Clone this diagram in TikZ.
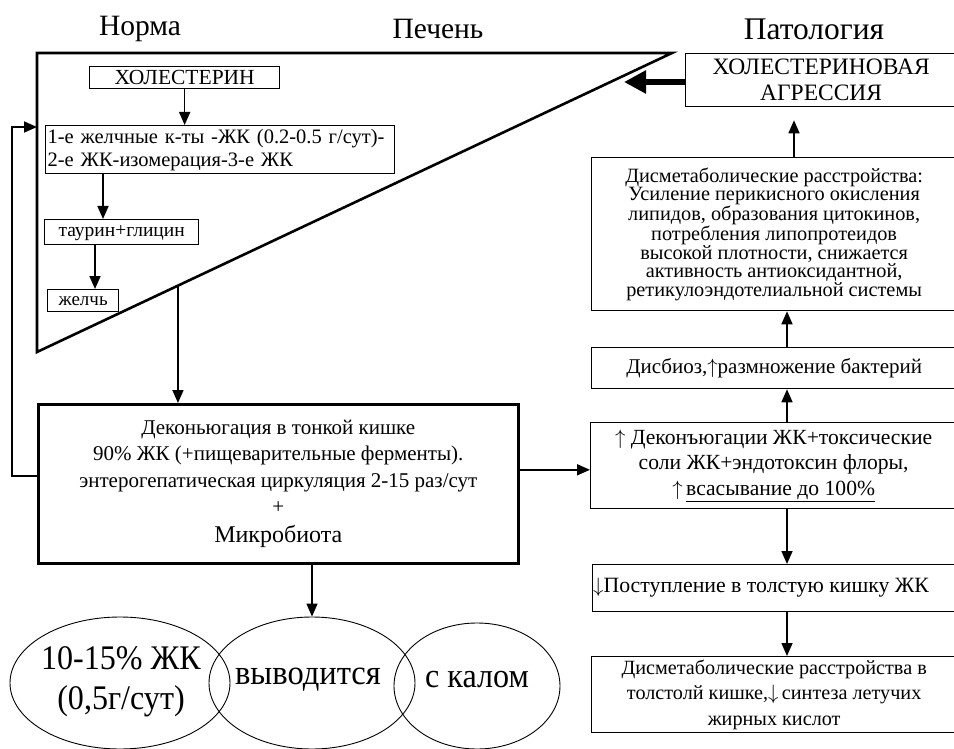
\documentclass[tikz,border=0pt]{standalone}
\usepackage{fontspec}
\setmainfont{Liberation Serif}
\newfontfamily\condserif[FakeStretch=0.93]{Liberation Serif}
\usetikzlibrary{arrows.meta,calc,shapes.geometric}
\newcommand{\upa}{$\uparrow$}
\newcommand{\dna}{$\downarrow$}
\begin{document}
\begin{tikzpicture}[x=1pt,y=-1pt,
  sbox/.style={draw, line width=1.3pt, inner sep=0pt, anchor=north west},
  rbox/.style={draw, line width=1.3pt, inner sep=0pt, anchor=north west, align=center},
  arr/.style={-{Triangle[length=13pt,width=11pt]}, line width=1.6pt},
  bigarr/.style={-{Triangle[length=22pt,width=22pt]}, line width=6pt},
  ell/.style={ellipse, draw, line width=0.9pt, inner sep=0pt},
  head/.style={font=\fontsize{29.5}{29.5}\selectfont}
]
\useasboundingbox (0,0) rectangle (954,749);

% headings
\node[head] (hnorm) at (140,29) {Норма};
\node[head] (hliver) at (438,29) {Печень};
\node[head, font=\fontsize{31.5}{31.5}\selectfont] (hpath) at (814,29) {Патология};

% liver triangle
\coordinate (lt) at (37,53);
\coordinate (rt) at (672,53);
\coordinate (lb) at (37,352);
\draw[line width=2.6pt, line join=miter] (lt) -- (rt) -- (lb) -- cycle;
\coordinate (dj) at ($(rt)!0.778!(lb)$);
\coordinate (fbin) at (37,127);

% liver nodes
\node[sbox, minimum width=190, minimum height=22, font=\fontsize{21.5}{21.5}\selectfont, text height=15pt, text depth=1pt] (chol) at (89,66) {ХОЛЕСТЕРИН};
\node[sbox, minimum width=349, minimum height=48, font=\fontsize{20.5}{23}\selectfont, align=left, text width=345, inner xsep=2pt] (ba) at (45,125) {1-е желчные к-ты -ЖК (0.2-0.5 г/сут)-\\2-е ЖК-изомерация-3-е ЖК};
\node[sbox, minimum width=154, minimum height=25, font=\fontsize{19.5}{22}\selectfont, text height=13pt, text depth=4pt] (taur) at (44,219) {таурин+глицин};
\node[sbox, minimum width=71, minimum height=22, font=\fontsize{19}{22}\selectfont, text height=13pt, text depth=4pt] (zhel) at (47,289) {желчь};

\draw[arr] (chol.south) -- (chol.south |- ba.north);
\draw[arr] (ba.south west) ++(58,0) coordinate (ba1) -- (ba1 |- taur.north);
\draw[arr] (taur.south west) ++(51,0) coordinate (ta1) -- (ta1 |- zhel.north);

% small intestine box
\node[draw, line width=2.6pt, inner sep=0pt, anchor=north west, minimum width=480, minimum height=159, align=center, font=\fontsize{21}{26.5}\selectfont] (deco) at (37,403)
 {Деконьюгация в тонкой кишке\\90\% ЖК (+пищеварительные ферменты).\\энтерогепатическая циркуляция 2-15 раз/сут\\+\\[2pt]{\fontsize{24}{26}\selectfont Микробиота}};

\draw[arr] (dj) -- (dj |- deco.north);
\draw[arr] ([yshift=8pt]deco.west) -| (12,127) -- (fbin);

% ellipses
\node[ell, minimum width=220, minimum height=132] (e1) at (120,683) {};
\node[ell, minimum width=206, minimum height=132] (e2) at (312,683) {};
\node[ell, minimum width=166, minimum height=126] (e3) at (477,686) {};
\node[align=center, font=\condserif\fontsize{34.5}{40}\selectfont] (t1) at (121,682) {10-15\% ЖК\\(0,5г/сут)};
\node[font=\condserif\fontsize{35}{35}\selectfont] (t2) at (308,680) {выводится};
\node[font=\condserif\fontsize{34.5}{35}\selectfont] (t3) at (477,680) {с калом};
\draw[arr] (deco.south -| e2.north) -- (e2.north);

% pathology column
\node[rbox, minimum width=271, minimum height=53, font=\fontsize{23.5}{26}\selectfont] (hol) at (685,53) {ХОЛЕСТЕРИНОВАЯ\\АГРЕССИЯ};
\node[rbox, minimum width=365, minimum height=153, font=\fontsize{20.3}{18.6}\selectfont] (dism) at (591,157) {Дисметаболические расстройства:\\Усиление перикисного окисления\\липидов, образования цитокинов,\\потребления липопротеидов\\высокой плотности, снижается\\активность антиоксидантной,\\ретикулоэндотелиальной системы};
\node[rbox, minimum width=365, minimum height=41, font=\fontsize{21}{21}\selectfont] (disb) at (591,347) {Дисбиоз,\upa размножение бактерий};
\node[rbox, minimum width=366, minimum height=86, font=\fontsize{21.6}{25.5}\selectfont] (dek2) at (590,422) {\upa\ Деконъюгации ЖК+токсические\\соли ЖК+эндотоксин флоры,\\\upa\,\underline{всасывание до 100\%}};
\node[rbox, minimum width=364, minimum height=47] (post) at (592,564) {};
\node[font=\fontsize{21.8}{22}\selectfont, anchor=west, inner sep=0pt] (postt) at (593,588) {\dna Поступление в толстую кишку ЖК};
\node[rbox, minimum width=365, minimum height=76, font=\fontsize{20.2}{25.5}\selectfont] (last) at (591,656) {Дисметаболические расстройства в\\толстолй кишке,\dna\,синтеза летучих\\жирных кислот};

\coordinate (cx) at (787,0);
\coordinate (deR) at ([yshift=14pt]deco.east);
\draw[arr] (deR) -- (dek2.west |- deR);
\draw[arr] (dek2.north -| cx) -- (disb.south -| cx);
\draw[arr] (disb.north -| cx) -- (dism.south -| cx);
\coordinate (cx2) at (794,0);
\draw[arr, shorten >=13pt] (dism.north -| cx2) -- (hol.south -| cx2);
\coordinate (tip) at (624,82);
\draw[bigarr] (hol.west |- tip) -- (tip);
\draw[arr] (dek2.south -| cx) -- (post.north -| cx);
\draw[arr] (post.south -| cx) -- (last.north -| cx);
\end{tikzpicture}
\end{document}
